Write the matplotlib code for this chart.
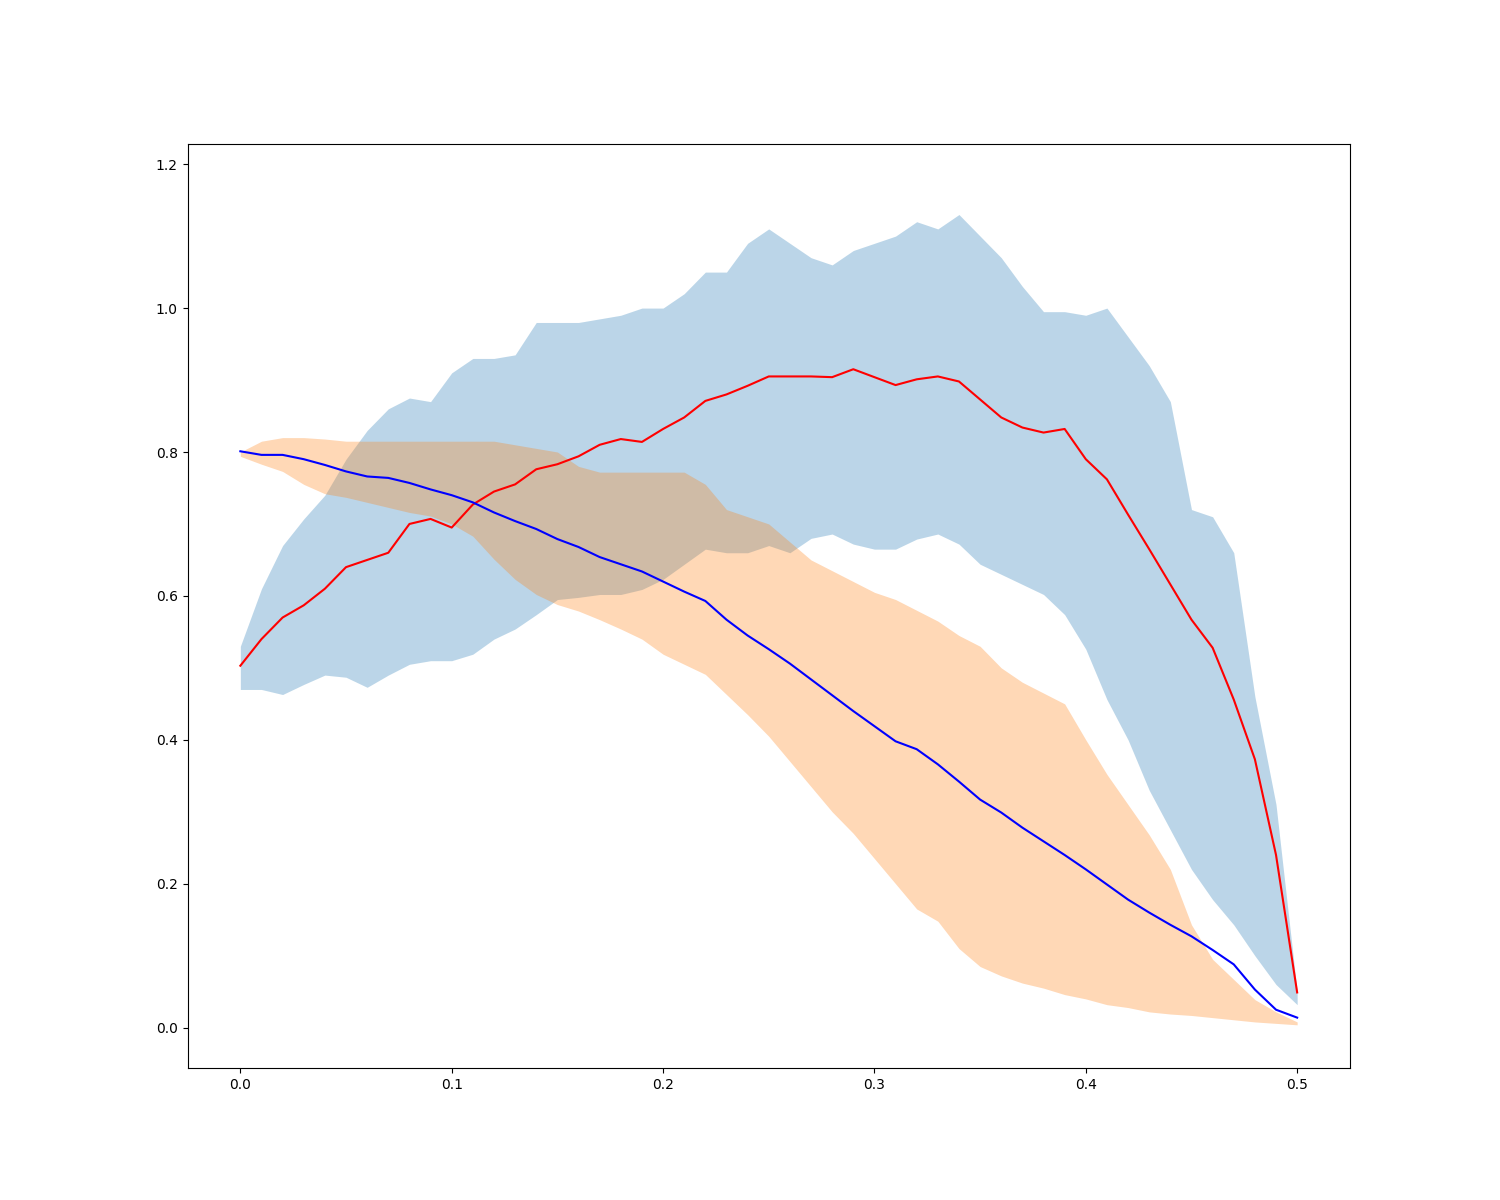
import numpy as np
import matplotlib
matplotlib.use("Agg")
import matplotlib.pyplot as plt

# x positions (0.0 .. 0.5 step 0.01)
x = np.linspace(0.0, 0.5, 51)

# red mean and its band (blue shade)
red_mean = [0.503, 0.54, 0.57, 0.587, 0.61, 0.64, 0.65, 0.66, 0.70, 0.707,
            0.695, 0.727, 0.745, 0.755, 0.776, 0.783, 0.794, 0.81, 0.818, 0.814,
            0.832, 0.848, 0.871, 0.88, 0.892, 0.905, 0.905, 0.905, 0.904, 0.915,
            0.904, 0.893, 0.901, 0.905, 0.898, 0.873, 0.848, 0.834, 0.827, 0.832,
            0.79, 0.762, 0.713, 0.665, 0.616, 0.567, 0.528, 0.456, 0.373, 0.24,
            0.049]
red_upper = [0.53, 0.61, 0.67, 0.707, 0.74, 0.79, 0.83, 0.86, 0.875, 0.87,
             0.91, 0.93, 0.93, 0.935, 0.98, 0.98, 0.98, 0.985, 0.99, 1.0,
             1.0, 1.02, 1.05, 1.05, 1.09, 1.11, 1.09, 1.07, 1.06, 1.08,
             1.09, 1.10, 1.12, 1.11, 1.13, 1.10, 1.07, 1.03, 0.995, 0.995,
             0.99, 1.0, 0.96, 0.92, 0.87, 0.72, 0.71, 0.66, 0.46, 0.31,
             0.05]
red_lower = [0.47, 0.47, 0.463, 0.477, 0.49, 0.487, 0.473, 0.49, 0.505, 0.51,
             0.51, 0.519, 0.54, 0.554, 0.574, 0.595, 0.598, 0.602, 0.602, 0.609,
             0.623, 0.644, 0.665, 0.66, 0.66, 0.67, 0.66, 0.68, 0.686, 0.672,
             0.665, 0.665, 0.679, 0.686, 0.672, 0.644, 0.63, 0.616, 0.602, 0.574,
             0.526, 0.456, 0.40, 0.33, 0.275, 0.22, 0.178, 0.143, 0.10, 0.06,
             0.032]

# blue mean and its band (orange shade)
blue_mean = [0.801, 0.796, 0.796, 0.79, 0.782, 0.773, 0.766, 0.764, 0.757, 0.748,
             0.74, 0.73, 0.716, 0.704, 0.693, 0.679, 0.668, 0.654, 0.644, 0.634,
             0.62, 0.606, 0.593, 0.567, 0.545, 0.526, 0.506, 0.484, 0.462, 0.44,
             0.419, 0.398, 0.387, 0.366, 0.342, 0.317, 0.299, 0.278, 0.259, 0.24,
             0.22, 0.199, 0.178, 0.16, 0.143, 0.127, 0.108, 0.088, 0.053, 0.025,
             0.014]
blue_upper = [0.80, 0.815, 0.82, 0.82, 0.818, 0.815, 0.815, 0.815, 0.815, 0.815,
              0.815, 0.815, 0.815, 0.81, 0.805, 0.80, 0.78, 0.772, 0.772, 0.772,
              0.772, 0.772, 0.755, 0.72, 0.71, 0.70, 0.675, 0.65, 0.635, 0.62,
              0.605, 0.595, 0.58, 0.565, 0.545, 0.53, 0.50, 0.48, 0.465, 0.45,
              0.40, 0.352, 0.31, 0.268, 0.22, 0.143, 0.095, 0.067, 0.039, 0.022,
              0.008]
blue_lower = [0.794, 0.783, 0.773, 0.755, 0.742, 0.737, 0.73, 0.723, 0.716, 0.711,
              0.70, 0.683, 0.651, 0.623, 0.602, 0.588, 0.579, 0.567, 0.554, 0.54,
              0.519, 0.505, 0.491, 0.463, 0.435, 0.405, 0.37, 0.335, 0.30, 0.27,
              0.235, 0.20, 0.165, 0.148, 0.11, 0.085, 0.072, 0.062, 0.055, 0.046,
              0.04, 0.032, 0.028, 0.022, 0.019, 0.017, 0.014, 0.011, 0.008, 0.006,
              0.004]

fig = plt.figure(figsize=(15, 12), dpi=100)
ax = fig.add_subplot(111)
ax.fill_between(x, red_lower, red_upper, color="C0", alpha=0.3, linewidth=0)
ax.fill_between(x, blue_lower, blue_upper, color="C1", alpha=0.3, linewidth=0)
ax.plot(x, red_mean, color="r", linewidth=1.5)
ax.plot(x, blue_mean, color="b", linewidth=1.5)
ax.set_ylim(-0.056, 1.228)
plt.savefig("out.png")
